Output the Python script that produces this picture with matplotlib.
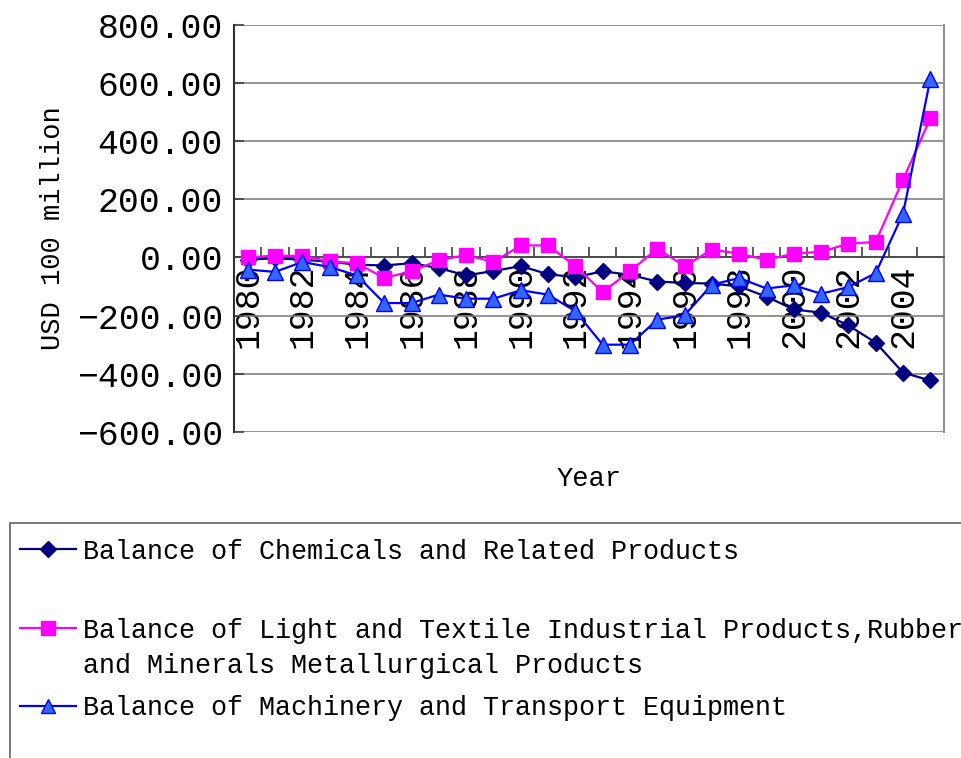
import matplotlib

matplotlib.use("Agg")
import matplotlib.pyplot as plt
from matplotlib.lines import Line2D
from matplotlib.patches import Rectangle
from matplotlib.ticker import FuncFormatter, MultipleLocator

years = list(range(1980, 2006))
year_labels = [str(y) for y in range(1980, 2006, 2)]

chemicals = [-8, -3, -8, -15, -25, -28, -20, -37, -62, -47, -30, -58, -68,
             -48, -60, -83, -88, -90, -100, -135, -179, -190, -234, -293, -396, -423]
light = [0, 6, 5, -14, -20, -71, -48, -10, 8, -16, 41, 41, -30,
         -119, -48, 30, -30, 26, 13, -9, 13, 19, 47, 53, 267, 478]
machinery = [-42, -50, -16, -33, -62, -157, -157, -128, -142, -142, -113, -128, -185,
             -300, -300, -214, -199, -94, -71, -107, -96, -125, -102, -54, 150, 613]

series_names = [
    "Balance of Chemicals and Related Products",
    "Balance of Light and Textile Industrial Products,Rubber\nand Minerals Metallurgical Products",
    "Balance of Machinery and Transport Equipment",
]

FONT = "Liberation Mono"
W, H = 962, 758

fig = plt.figure(figsize=(W / 100, H / 100), dpi=100)
ax = fig.add_axes([234 / W, 1 - 432 / H, 710 / W, 407.5 / H])

styles = [
    dict(color="#000080", marker="D", ms=8.5, mfc="#000080", mec="#000080"),
    dict(color="#FF00FF", marker="s", ms=10, mfc="#FF00FF", mec="#FF00FF"),
    dict(color="#0000FF", marker="^", ms=11, mfc="#3366FF", mec="#0000FF"),
]
handles = []
for vals, st in zip([chemicals, light, machinery], styles):
    (ln,) = ax.plot(years, vals, lw=1.6, mew=1.0, clip_on=False, zorder=3, **st)
    handles.append(ln)

ax.set_xlim(1979.5, 2005.5)
ax.set_ylim(-600, 800)

# gridlines at every 200, they also form the top/bottom border
ax.yaxis.set_major_locator(MultipleLocator(200))
ax.grid(axis="y", color="#808080", lw=1.2)
ax.set_axisbelow(True)
ax.yaxis.set_major_formatter(
    FuncFormatter(lambda v, _: f"{v:.2f}".replace("-", "\u2212"))
)
ax.tick_params(axis="y", direction="in", length=7, width=1.2, pad=8,
               labelsize=25, color="#404040")

# category axis sits on zero
ax.spines["bottom"].set_position(("data", 0))
ax.spines["bottom"].set_color("#404040")
ax.spines["bottom"].set_linewidth(1.2)
ax.spines["left"].set_color("#303030")
ax.spines["left"].set_linewidth(1.5)
ax.spines["top"].set_visible(False)
ax.spines["right"].set_color("#909090")
ax.spines["right"].set_linewidth(1.5)

ax.set_xticks(list(range(1980, 2006, 2)))
ax.set_xticklabels(year_labels, rotation=90, va="top", ha="center")
ax.set_xticks([y + 0.5 for y in years[:-1]], minor=True)
ax.tick_params(axis="x", which="major", length=0, pad=5, labelsize=25)
ax.tick_params(axis="x", which="minor", direction="in", length=7, width=1.2,
               color="#404040")

for lab in ax.get_xticklabels() + ax.get_yticklabels():
    lab.set_fontfamily(FONT)

ax.set_ylabel("USD 100 million", fontsize=19.5, fontfamily=FONT)
ax.yaxis.set_label_coords(-0.236, 0.5)
ax.set_xlabel("Year", fontsize=19.5, fontfamily=FONT, va="top")
ax.xaxis.set_label_coords(0.5, -0.083)

# legend box (runs off the right/bottom edge as in the original)
fig.add_artist(Rectangle((10 / W, -0.1), 1.0, 1 - 523 / H + 0.1,
                         transform=fig.transFigure, fill=False,
                         ec="#606060", lw=1.2))
handle_y = [549, 628, 706]
text_baselines = [[559], [638, 673], [715]]
for h, name, hy, bases in zip(handles, series_names, handle_y, text_baselines):
    fig.add_artist(Line2D([20 / W, 76 / W], [1 - hy / H] * 2,
                          transform=fig.transFigure, color=h.get_color(), lw=1.6))
    fig.add_artist(Line2D([48 / W], [1 - hy / H], transform=fig.transFigure,
                          ls="none", marker=h.get_marker(),
                          ms=h.get_markersize() * 0.95,
                          mfc=h.get_markerfacecolor(),
                          mec=h.get_markeredgecolor(), mew=1.0))
    for line, b in zip(name.split("\n"), bases):
        fig.text(83 / W, 1 - b / H, line, fontsize=19.3, fontfamily=FONT,
                 va="baseline", ha="left")

fig.savefig("out.png", dpi=100)
